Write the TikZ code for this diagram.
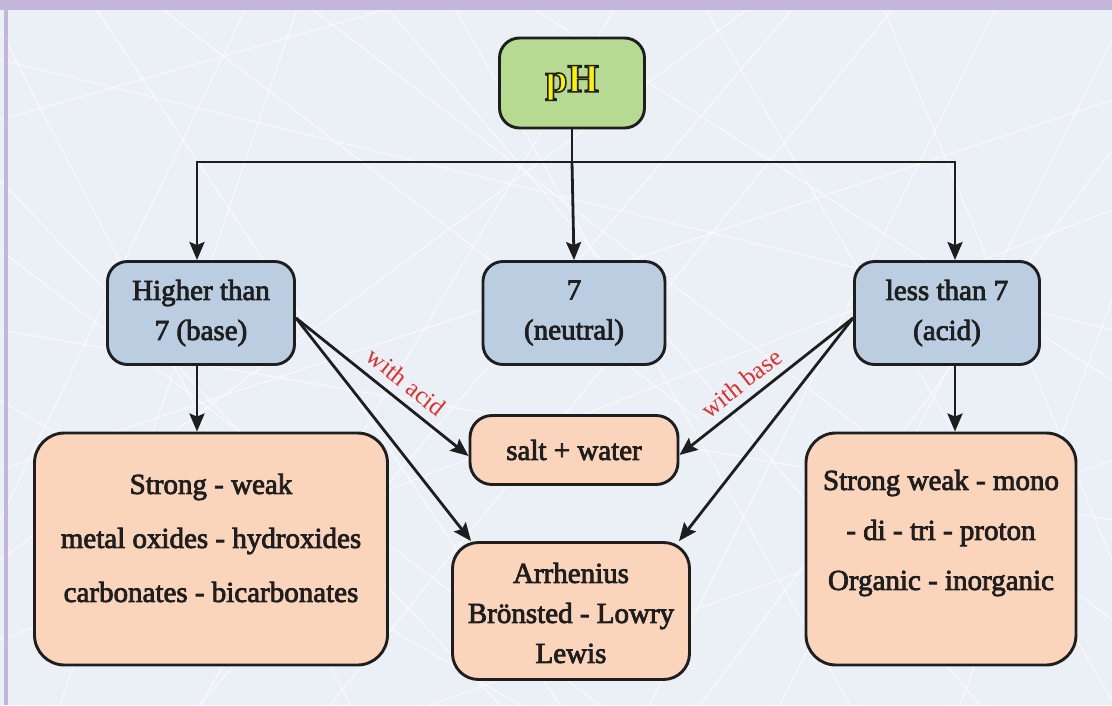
\documentclass[tikz,border=0pt]{standalone}
\usepackage{fontspec}
\setmainfont{Liberation Serif}
\newfontfamily\phfont{Liberation Serif Bold}
\usetikzlibrary{arrows.meta}
\definecolor{bgc}{HTML}{EBEFF6}
\definecolor{topband}{HTML}{C4B6DA}
\definecolor{greenf}{HTML}{B6DA92}
\definecolor{bluef}{HTML}{BACDE1}
\definecolor{peachf}{HTML}{FAD4BB}
\definecolor{redl}{HTML}{E02E2A}
\definecolor{ink}{HTML}{1E1E1E}
\definecolor{phyel}{HTML}{FFF200}
\newcommand\outlinetext[1]{\special{pdf:literal direct 0.12 0.12 0.12 RG 2 Tr 1.6 w}#1\special{pdf:literal direct 0 Tr}}
\newcommand\semib{\special{pdf:literal direct 0.12 0.12 0.12 RG 2 Tr 0.8 w}}
\tikzset{
  box/.style={draw=ink, line width=2.9pt, rounded corners=20pt, align=center, text=ink},
  gbox/.style={box, fill=greenf, minimum width=145pt, minimum height=90pt},
  bbox/.style={box, fill=bluef, minimum width=187pt, minimum height=103pt, font=\fontsize{29}{40}\selectfont},
  pbox/.style={box, fill=peachf, rounded corners=30pt},
  txt/.style={align=center, text=ink, inner sep=0pt},
  conn/.style={draw=ink, line width=2.8pt, -{Stealth[length=18pt,width=15pt,inset=3pt]}},
  plain/.style={draw=ink, line width=2.8pt},
  lab/.style={text=redl, font=\fontsize{25}{26}\selectfont, inner sep=2pt},
  tex/.style={draw=white, line width=1.3pt, opacity=0.6}
}
\begin{document}
\begin{tikzpicture}[x=1pt, y=-1pt]
\useasboundingbox (0,0) rectangle (1112,705);
\fill[bgc] (0,0) rectangle (1112,705);
% background texture
\foreach \a/\b/\c/\d in {
  0/120/420/0, 60/705/300/0, 150/0/700/420, 0/400/520/705, 330/705/900/0,
  520/0/1112/380, 700/705/1112/150, 880/0/1112/560, 0/250/600/705, 250/0/0/520,
  430/705/1112/460, 620/0/200/705, 780/705/1112/40, 1000/0/650/705, 0/640/1112/210,
  0/60/1112/330, 90/0/560/705, 960/705/1112/300, 380/0/980/705, 0/560/760/0,
  0/30/350/705, 200/705/800/0, 1112/100/0/470, 1112/620/300/0, 500/705/0/180,
  700/0/1112/700, 0/330/1112/520, 850/705/450/0}
  {\draw[tex] (\a,\b) -- (\c,\d);}
\fill[topband] (0,0) rectangle (1112,10);
\fill[topband] (4,10) rectangle (8,705);

% nodes
\node[gbox] (ph) at (572,83) {\phfont\fontsize{40}{42}\selectfont\textcolor{phyel}{\outlinetext{pH}}};
\node[bbox] (base) at (201,313) {\semib Higher than\\7 (base)};
\node[bbox, minimum width=182pt] (neut) at (574,313) {\semib 7\\(neutral)};
\node[bbox, minimum width=185pt] (acid) at (947,313) {\semib less than 7\\(acid)};

\node[pbox, minimum width=353pt, minimum height=232pt] (lbox) at (211,549) {};
\node[txt, font=\fontsize{29}{54}\selectfont] (ltxt) at (211,538) {\semib Strong - weak\\metal oxides - hydroxides\\carbonates - bicarbonates};

\node[pbox, rounded corners=22pt, minimum width=208pt, minimum height=69pt, font=\fontsize{29}{30}\selectfont] (salt) at (574,450) {\semib salt + water};

\node[pbox, rounded corners=26pt, minimum width=237pt, minimum height=137pt] (arr) at (571,611) {};
\node[txt, font=\fontsize{29}{40}\selectfont] (atxt) at (571,613) {\semib Arrhenius\\Br\"{o}nsted - Lowry\\Lewis};

\node[pbox, minimum width=270pt, minimum height=232pt] (rbox) at (941,549) {};
\node[txt, font=\fontsize{29}{50}\selectfont] (rtxt) at (941,533) {\semib Strong weak - mono\\- di - tri - proton\\Organic - inorganic};

% connectors
\coordinate (split) at (ph.south |- 0,162);
\draw[plain] (ph.south) -- (split);
\draw[conn] (split) -| ([xshift=-4pt]base.north);
\draw[conn] (split) -- (neut.north);
\draw[conn] (split) -| ([xshift=8pt]acid.north);
\draw[conn] ([xshift=-4pt]base.south) -- ([xshift=-4pt]base.south |- lbox.north);
\draw[conn] ([xshift=8pt]acid.south) -- ([xshift=8pt]acid.south |- rbox.north);

\coordinate (bo) at ([yshift=-5pt]base.east);
\coordinate (ao) at ([yshift=-5pt]acid.west);
\draw[conn] (bo) -- ([yshift=-6pt]salt.west) node[lab, pos=0.57, above=7pt, sloped] (wacid) {with acid};
\draw[conn] (bo) -- ([xshift=-100pt]arr.north);
\draw[conn] (ao) -- ([yshift=-5pt]salt.east) node[lab, pos=0.58, above=6pt, sloped] (wbase) {with base};
\draw[conn] (ao) -- ([xshift=108pt]arr.north);
\end{tikzpicture}
\end{document}
